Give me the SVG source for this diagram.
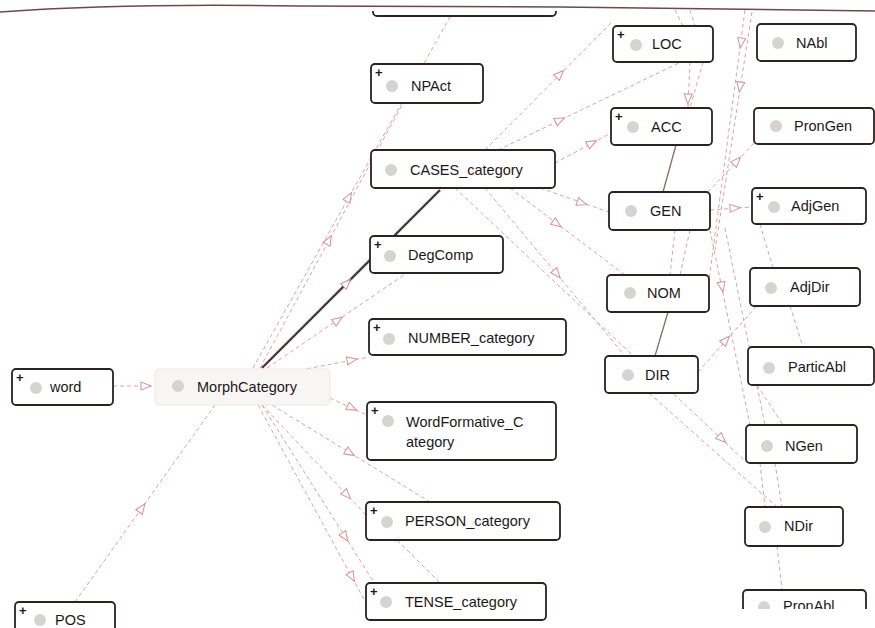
<svg xmlns="http://www.w3.org/2000/svg" width="875" height="628" viewBox="0 0 875 628">
<style>
.n rect{fill:#ffffff;stroke:#2b2222;stroke-width:1.8}
.t{font-family:"Liberation Sans",Arial,sans-serif;font-size:14.5px;fill:#1d1818}
.ic{fill:#d8d3d3}
.pl{font-family:"Liberation Sans",Arial,sans-serif;font-size:13px;font-weight:bold;fill:#1d1818}
.e{stroke:#dba2ac;stroke-width:1;stroke-dasharray:4 3;fill:none}
.d{stroke:#4d3535;stroke-width:2.4;fill:none}
.d2{stroke:#8a6a6a;stroke-width:1.3;fill:none}
.ah{fill:#ffffff;stroke:#d4909c;stroke-width:1}
</style>
<defs>
<path id="ah" class="ah" d="M-5,-4 L5,0 L-5,4 Z"/>
<clipPath id="cb"><rect x="0" y="0" width="875" height="609"/></clipPath>
<clipPath id="ct"><rect x="0" y="11" width="875" height="617"/></clipPath>
</defs>
<rect width="875" height="628" fill="#ffffff"/>
<path d="M0,12 Q120,3 300,6 L560,7 Q700,9 875,11" fill="none" stroke="#6b4a4a" stroke-width="1.5"/>
<g id="edges">
<line class="e" x1="113" y1="386" x2="155" y2="386"/>
<use href="#ah" transform="translate(146,386)"/>
<line class="e" x1="75" y1="602" x2="215" y2="405"/>
<use href="#ah" transform="translate(142,508) rotate(-54.6)"/>
<line class="e" x1="253" y1="368" x2="450" y2="17"/>
<use href="#ah" transform="translate(349,197) rotate(-60.7)"/>
<line class="e" x1="260" y1="368" x2="403" y2="103"/>
<use href="#ah" transform="translate(329,240) rotate(-61.6)"/>
<line class="d" x1="262" y1="368" x2="440" y2="190"/>
<use href="#ah" transform="translate(347,283) rotate(-45)" style="stroke:#4d3535"/>
<line class="e" x1="267" y1="368" x2="407" y2="273"/>
<use href="#ah" transform="translate(338,320) rotate(-34.2)"/>
<line class="e" x1="300" y1="370" x2="369" y2="357"/>
<use href="#ah" transform="translate(352,360) rotate(-10.7)"/>
<line class="e" x1="330" y1="398" x2="367" y2="415"/>
<use href="#ah" transform="translate(352,408) rotate(24.7)"/>
<line class="e" x1="272" y1="405" x2="430" y2="502"/>
<use href="#ah" transform="translate(350,453) rotate(31.5)"/>
<line class="e" x1="262" y1="405" x2="366" y2="515"/>
<use href="#ah" transform="translate(347,495) rotate(46.6)"/>
<line class="e" x1="262" y1="405" x2="375" y2="584"/>
<use href="#ah" transform="translate(345,537) rotate(57.7)"/>
<line class="e" x1="258" y1="405" x2="366" y2="603"/>
<use href="#ah" transform="translate(352,577) rotate(61.4)"/>
<line class="e" x1="397" y1="540" x2="440" y2="583"/>
<line class="e" x1="485" y1="150" x2="612" y2="22"/>
<use href="#ah" transform="translate(560,74) rotate(-45.2)"/>
<line class="e" x1="498" y1="150" x2="681" y2="62"/>
<use href="#ah" transform="translate(560,120) rotate(-25.7)"/>
<line class="e" x1="555" y1="163" x2="611" y2="133"/>
<use href="#ah" transform="translate(592,143) rotate(-28.2)"/>
<line class="e" x1="540" y1="188" x2="609" y2="212"/>
<use href="#ah" transform="translate(582,203) rotate(19.2)"/>
<line class="e" x1="510" y1="188" x2="625" y2="275"/>
<use href="#ah" transform="translate(557,224) rotate(37.1)"/>
<line class="e" x1="485" y1="188" x2="625" y2="356"/>
<use href="#ah" transform="translate(557,274) rotate(50.2)"/>
<line class="e" x1="455" y1="188" x2="746" y2="462"/>
<use href="#ah" transform="translate(722,439) rotate(43.3)"/>
<line class="e" x1="690" y1="62" x2="688" y2="108"/>
<use href="#ah" transform="translate(688,99) rotate(92.5)"/>
<line class="e" x1="703" y1="62" x2="690" y2="108"/>
<line class="d2" x1="676" y1="145" x2="663" y2="192"/>
<line class="e" x1="675" y1="230" x2="670" y2="275"/>
<line class="e" x1="690" y1="230" x2="680" y2="275"/>
<line class="d2" x1="668" y1="312" x2="655" y2="356"/>
<line class="e" x1="710" y1="210" x2="752" y2="207"/>
<use href="#ah" transform="translate(735,208) rotate(-4)"/>
<line class="e" x1="698" y1="372" x2="762" y2="300"/>
<use href="#ah" transform="translate(726,340) rotate(-48)"/>
<line class="e" x1="708" y1="192" x2="754" y2="143"/>
<use href="#ah" transform="translate(737,161) rotate(-46.8)"/>
<line class="e" x1="745" y1="10" x2="709" y2="280"/>
<use href="#ah" transform="translate(741,43) rotate(97.6)"/>
<line class="e" x1="752" y1="12" x2="715" y2="250"/>
<use href="#ah" transform="translate(740,87) rotate(98.8)"/>
<line class="e" x1="710" y1="230" x2="750" y2="425"/>
<use href="#ah" transform="translate(722,287) rotate(78.4)"/>
<line class="e" x1="725" y1="228" x2="765" y2="425"/>
<line class="e" x1="760" y1="224" x2="773" y2="268"/>
<line class="e" x1="790" y1="306" x2="803" y2="347"/>
<line class="e" x1="757" y1="385" x2="783" y2="425"/>
<line class="e" x1="760" y1="463" x2="765" y2="507"/>
<line class="e" x1="775" y1="463" x2="782" y2="507"/>
<line class="e" x1="777" y1="546" x2="782" y2="590"/>
<line class="e" x1="649" y1="393" x2="777" y2="507"/>
<line class="e" x1="675" y1="10" x2="683" y2="26"/>
<line class="e" x1="690" y1="10" x2="695" y2="26"/>
</g>
<g id="node-top" class="n" clip-path="url(#ct)"><rect x="373" y="-20" width="183" height="36" rx="4"/></g>
<g id="node-NPAct" class="n"><rect x="371" y="64" width="112" height="39" rx="4"/><text class="pl" x="375" y="77">+</text><circle class="ic" cx="392" cy="86" r="6"/><text class="t" x="411" y="91">NPAct</text></g>
<g id="node-CASES" class="n"><rect x="371" y="150" width="184" height="38" rx="4"/><circle class="ic" cx="391" cy="170" r="6"/><text class="t" x="410" y="175">CASES_category</text></g>
<g id="node-DegComp" class="n"><rect x="370" y="236" width="133" height="37" rx="4"/><text class="pl" x="374" y="249">+</text><circle class="ic" cx="390" cy="256" r="6"/><text class="t" x="408" y="260">DegComp</text></g>
<g id="node-NUMBER" class="n"><rect x="369" y="319" width="197" height="36" rx="4"/><text class="pl" x="373" y="332">+</text><circle class="ic" cx="389" cy="339" r="6"/><text class="t" x="408" y="343">NUMBER_category</text></g>
<g id="node-WordFormative" class="n"><rect x="367" y="402" width="189" height="58" rx="4"/><text class="pl" x="371" y="415">+</text><circle class="ic" cx="388" cy="421" r="6"/><text class="t" x="406" y="427">WordFormative_C</text><text class="t" x="406" y="447">ategory</text></g>
<g id="node-PERSON" class="n"><rect x="366" y="502" width="194" height="38" rx="4"/><text class="pl" x="370" y="515">+</text><circle class="ic" cx="387" cy="522" r="6"/><text class="t" x="405" y="526">PERSON_category</text></g>
<g id="node-TENSE" class="n"><rect x="366" y="583" width="180" height="37" rx="4"/><text class="pl" x="370" y="596">+</text><circle class="ic" cx="386" cy="602" r="6"/><text class="t" x="405" y="607">TENSE_category</text></g>
<g id="node-word" class="n"><rect x="12" y="369" width="101" height="36" rx="4"/><text class="pl" x="16" y="382">+</text><circle class="ic" cx="36" cy="388" r="6"/><text class="t" x="50" y="392">word</text></g>
<g id="node-MorphCategory"><rect x="155" y="369" width="175" height="36" rx="4" fill="#f8f5f5" stroke="#ede7e7" stroke-width="1"/><circle class="ic" cx="178" cy="386" r="6"/><text class="t" x="197" y="392">MorphCategory</text></g>
<g id="node-POS" class="n"><rect x="15" y="602" width="100" height="38" rx="4"/><text class="pl" x="19" y="615">+</text><circle class="ic" cx="40" cy="620" r="6"/><text class="t" x="55" y="625">POS</text></g>
<g id="node-LOC" class="n"><rect x="613" y="26" width="100" height="36" rx="4"/><text class="pl" x="617" y="39">+</text><circle class="ic" cx="636" cy="45" r="6"/><text class="t" x="652" y="49">LOC</text></g>
<g id="node-ACC" class="n"><rect x="611" y="108" width="101" height="37" rx="4"/><text class="pl" x="615" y="121">+</text><circle class="ic" cx="633" cy="127" r="6"/><text class="t" x="651" y="132">ACC</text></g>
<g id="node-GEN" class="n"><rect x="609" y="192" width="101" height="38" rx="4"/><circle class="ic" cx="631" cy="211" r="6"/><text class="t" x="650" y="216">GEN</text></g>
<g id="node-NOM" class="n"><rect x="607" y="275" width="102" height="37" rx="4"/><circle class="ic" cx="630" cy="293" r="6"/><text class="t" x="647" y="298">NOM</text></g>
<g id="node-DIR" class="n"><rect x="605" y="356" width="93" height="37" rx="4"/><circle class="ic" cx="628" cy="375" r="6"/><text class="t" x="645" y="380">DIR</text></g>
<g id="node-NAbl" class="n"><rect x="757" y="24" width="99" height="37" rx="4"/><circle class="ic" cx="778" cy="43" r="6"/><text class="t" x="796" y="48">NAbl</text></g>
<g id="node-PronGen" class="n"><rect x="754" y="108" width="120" height="36" rx="4"/><circle class="ic" cx="776" cy="126" r="6"/><text class="t" x="794" y="131">PronGen</text></g>
<g id="node-AdjGen" class="n"><rect x="752" y="188" width="114" height="36" rx="4"/><text class="pl" x="756" y="201">+</text><circle class="ic" cx="774" cy="207" r="6"/><text class="t" x="791" y="211">AdjGen</text></g>
<g id="node-AdjDir" class="n"><rect x="750" y="268" width="110" height="38" rx="4"/><circle class="ic" cx="771" cy="288" r="6"/><text class="t" x="790" y="292">AdjDir</text></g>
<g id="node-ParticAbl" class="n"><rect x="748" y="347" width="126" height="38" rx="4"/><circle class="ic" cx="769" cy="368" r="6"/><text class="t" x="788" y="372">ParticAbl</text></g>
<g id="node-NGen" class="n"><rect x="746" y="425" width="111" height="38" rx="4"/><circle class="ic" cx="767" cy="446" r="6"/><text class="t" x="785" y="451">NGen</text></g>
<g id="node-NDir" class="n"><rect x="745" y="507" width="98" height="39" rx="4"/><circle class="ic" cx="765" cy="527" r="6"/><text class="t" x="784" y="531">NDir</text></g>
<g id="node-PronAbl" class="n" clip-path="url(#cb)"><rect x="743" y="590" width="123" height="40" rx="4"/><circle class="ic" cx="764" cy="607" r="6"/><text class="t" x="783" y="611">PronAbl</text></g>
</svg>
